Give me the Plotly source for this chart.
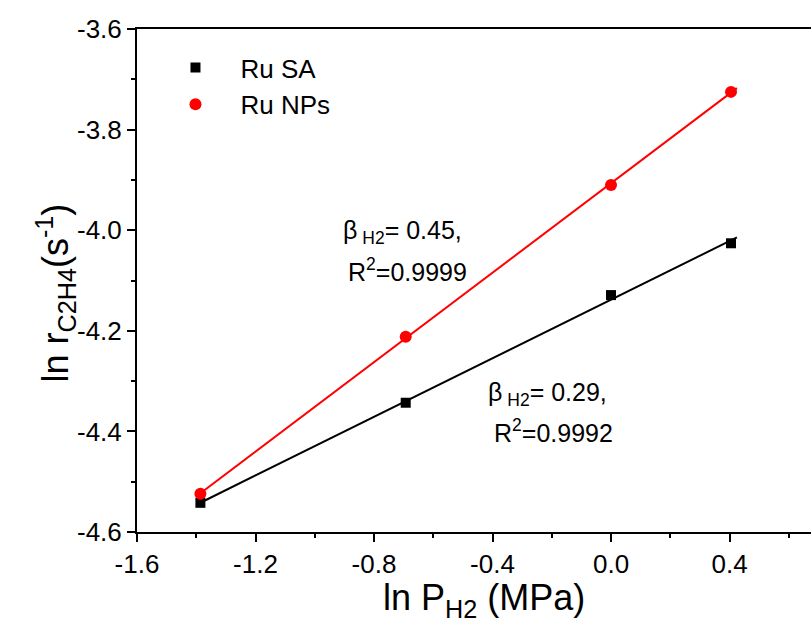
import numpy as np
import plotly.graph_objects as go

# Data
ln_p = [-1.386, -0.693, 0.0, 0.405]
ru_sa = [-4.542, -4.343, -4.129, -4.026]
ru_nps = [-4.524, -4.212, -3.910, -3.725]
series_names = ["Ru SA", "Ru NPs"]
x_ticks = [-1.6, -1.2, -0.8, -0.4, 0.0, 0.4]
y_ticks = [-3.6, -3.8, -4.0, -4.2, -4.4, -4.6]

FONT = "Liberation Sans, Arial, sans-serif"

fig = go.Figure()

# Linear fits
fit_x = np.array([min(ln_p), max(ln_p) + 0.02])
for ys, col in [(ru_sa, "black"), (ru_nps, "red")]:
    k, b = np.polyfit(ln_p, ys, 1)
    fig.add_trace(go.Scatter(x=fit_x, y=k * fit_x + b, mode="lines",
                             line=dict(color=col, width=2), showlegend=False,
                             hoverinfo="skip"))

fig.add_trace(go.Scatter(x=ln_p, y=ru_sa, mode="markers", name=series_names[0],
                         marker=dict(symbol="square", size=10, color="black")))
fig.add_trace(go.Scatter(x=ln_p, y=ru_nps, mode="markers", name=series_names[1],
                         marker=dict(symbol="circle", size=12, color="red")))

ann_font = dict(family=FONT, size=25, color="black")
annotations = [
    dict(x=-0.912, y=-4.004, text="β<sub> H2</sub>= 0.45,"),
    dict(x=-0.895, y=-4.079, text="R<sup>2</sup>=0.9999"),
    dict(x=-0.423, y=-4.326, text="β<sub> H2</sub>= 0.29,"),
    dict(x=-0.403, y=-4.399, text="R<sup>2</sup>=0.9992"),
]
for a in annotations:
    a.update(xref="x", yref="y", xanchor="left", yanchor="middle",
             showarrow=False, font=ann_font)

# Axis titles
annotations.append(dict(text="ln P<sub>H2</sub> (MPa)", xref="paper", yref="paper",
                        x=0.515, y=-0.086, xanchor="center", yanchor="top",
                        showarrow=False, font=dict(family=FONT, size=36, color="black")))
annotations.append(dict(text="ln r<sub>C2H4</sub>(s<sup>-1</sup>)", xref="paper", yref="paper",
                        x=-0.121, y=0.475, xanchor="center", yanchor="middle",
                        textangle=-90, showarrow=False,
                        font=dict(family=FONT, size=36, color="black")))

fig.update_layout(
    width=811, height=630,
    margin=dict(l=137, r=0, t=29, b=98),
    plot_bgcolor="white", paper_bgcolor="white",
    font=dict(family=FONT, color="black"),
    showlegend=True,
    legend=dict(x=0.02, y=0.97, xanchor="left", yanchor="top",
                bgcolor="rgba(0,0,0,0)", font=dict(family=FONT, size=26),
                itemwidth=80, tracegroupgap=0),
    annotations=annotations,
)

fig.update_xaxes(
    range=[-1.6, 0.675], tickvals=x_ticks,
    ticktext=[f"{v:.1f}" for v in x_ticks],
    showgrid=False, zeroline=False,
    showline=True, linecolor="black", linewidth=2, mirror=True,
    ticks="outside", ticklen=8, tickwidth=2, tickcolor="black",
    minor=dict(dtick=0.2, tick0=-1.6, ticks="outside", ticklen=4, tickwidth=2, tickcolor="black"),
    tickfont=dict(family=FONT, size=26),
)
fig.update_yaxes(
    range=[-4.6, -3.6], tickvals=y_ticks,
    ticktext=[f"{v:.1f}" for v in y_ticks],
    showgrid=False, zeroline=False,
    showline=True, linecolor="black", linewidth=2, mirror=False,
    ticks="outside", ticklen=8, tickwidth=2, tickcolor="black",
    minor=dict(dtick=0.1, tick0=-4.6, ticks="outside", ticklen=4, tickwidth=2, tickcolor="black"),
    tickfont=dict(family=FONT, size=26),
)

fig.write_html("out.html")
